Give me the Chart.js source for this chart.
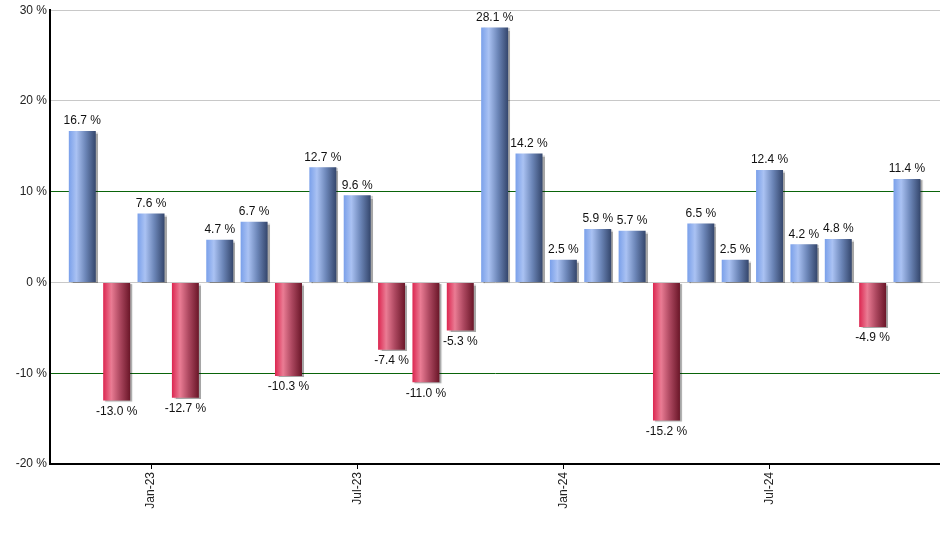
<!DOCTYPE html>
<html>
<head>
<meta charset="utf-8">
<script src="https://cdn.jsdelivr.net/npm/chart.js@4"></script>
<style>
  html, body { margin: 0; padding: 0; background: #fff; }
  #wrap { width: 940px; height: 550px; }
</style>
</head>
<body>
<div id="wrap"><canvas id="chart"></canvas></div>
<script>
const months = ['Nov-22', 'Dec-22', 'Jan-23', 'Feb-23', 'Mar-23', 'Apr-23', 'May-23', 'Jun-23', 'Jul-23',
  'Aug-23', 'Sep-23', 'Oct-23', 'Nov-23', 'Dec-23', 'Jan-24', 'Feb-24', 'Mar-24', 'Apr-24', 'May-24',
  'Jun-24', 'Jul-24', 'Aug-24', 'Sep-24', 'Oct-24', 'Nov-24'];
const returns = [16.7, -13.0, 7.6, -12.7, 4.7, 6.7, -10.3, 12.7, 9.6, -7.4, -11.0, -5.3, 28.1,
  14.2, 2.5, 5.9, 5.7, -15.2, 6.5, 2.5, 12.4, 4.2, 4.8, -4.9, 11.4];
const shownMonths = ['Jan-23', 'Jul-23', 'Jan-24', 'Jul-24'];
const yTicks = [-20, -10, 0, 10, 20, 30];

const barPct = 0.785;

function barFill(c) {
  const chart = c.chart;
  if (!chart.chartArea || !c.raw) return '#7ea4ec';
  const xs = chart.scales.x;
  const cx = xs.getPixelForValue(c.raw.x);
  const w = (xs.getPixelForValue(1) - xs.getPixelForValue(0)) * barPct;
  const g = chart.ctx.createLinearGradient(cx - w / 2, 0, cx + w / 2, 0);
  if (c.raw.y >= 0) {
    g.addColorStop(0, '#7aa0ea');
    g.addColorStop(0.28, '#aac2f3');
    g.addColorStop(0.62, '#6c86b8');
    g.addColorStop(1, '#34466c');
  } else {
    g.addColorStop(0, '#dc2650');
    g.addColorStop(0.3, '#ea7c94');
    g.addColorStop(0.62, '#ad4860');
    g.addColorStop(1, '#6a1628');
  }
  return g;
}

const shadowPlugin = {
  id: 'barShadow',
  beforeDatasetsDraw(chart) {
    const ctx = chart.ctx;
    ctx.save();
    ctx.shadowColor = 'rgba(0,0,0,0.35)';
    ctx.shadowOffsetX = 2;
    ctx.shadowOffsetY = 1;
    ctx.shadowBlur = 1;
  },
  afterDatasetsDraw(chart) {
    chart.ctx.restore();
  }
};

const labelPlugin = {
  id: 'valueLabels',
  afterDatasetsDraw(chart) {
    const ctx = chart.ctx;
    const meta = chart.getDatasetMeta(0);
    ctx.save();
    ctx.font = '12px "Liberation Sans", Arial, sans-serif';
    ctx.fillStyle = '#111';
    ctx.textAlign = 'center';
    meta.data.forEach((bar, i) => {
      const v = returns[i];
      const txt = v.toFixed(1) + ' %';
      if (v >= 0) {
        ctx.textBaseline = 'bottom';
        ctx.fillText(txt, bar.x, bar.y - 4);
      } else {
        ctx.textBaseline = 'top';
        ctx.fillText(txt, bar.x, bar.y + 5);
      }
    });
    ctx.restore();
  }
};

new Chart(document.getElementById('chart'), {
  type: 'bar',
  data: {
    datasets: [{
      data: returns.map((v, i) => ({ x: i + 1, y: v })),
      backgroundColor: barFill,
      borderWidth: 0,
      barPercentage: barPct,
      categoryPercentage: 1
    }]
  },
  options: {
    responsive: true,
    maintainAspectRatio: false,
    animation: false,
    layout: { padding: { top: 10, right: 0, left: 0, bottom: 0 } },
    plugins: {
      legend: { display: false },
      tooltip: { enabled: false }
    },
    scales: {
      x: {
        type: 'linear',
        offset: false,
        min: 0.06,
        max: 25.96,
        afterBuildTicks(scale) {
          scale.ticks = shownMonths.map(m => ({ value: months.indexOf(m) + 1 }));
        },
        afterFit(scale) { scale.height = 86; },
        grid: {
          offset: false,
          drawOnChartArea: false,
          drawTicks: true,
          tickLength: 5,
          tickColor: '#000'
        },
        border: { color: '#000', width: 2 },
        ticks: {
          autoSkip: false,
          maxRotation: 90,
          minRotation: 90,
          padding: 3,
          color: '#222',
          font: { family: '"Liberation Sans", Arial, sans-serif', size: 12 },
          callback: v => months[v - 1]
        }
      },
      y: {
        min: -20,
        max: 30,
        afterBuildTicks(scale) {
          scale.ticks = yTicks.map(v => ({ value: v }));
        },
        afterFit(scale) { scale.width = 50; },
        grid: {
          drawTicks: false,
          color: c => (c.tick && Math.abs(c.tick.value) === 10) ? '#0a640a' : '#c8c8c8',
          lineWidth: 1
        },
        border: { color: '#000', width: 2 },
        ticks: {
          padding: 3,
          color: '#222',
          font: { family: '"Liberation Sans", Arial, sans-serif', size: 12 },
          callback: v => v + ' %'
        }
      }
    }
  },
  plugins: [shadowPlugin, labelPlugin]
});
</script>
</body>
</html>
